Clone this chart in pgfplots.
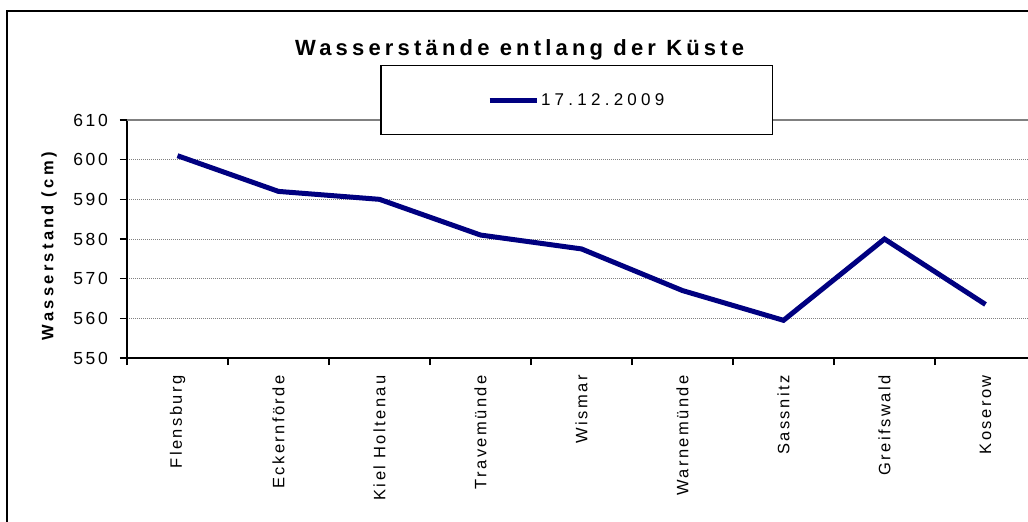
\documentclass[border=0pt]{standalone}
\usepackage{pgfplots}
\pgfplotsset{compat=1.18}
\usepackage{fontspec}
\setmainfont{Liberation Sans}
\newfontfamily\tickfont[LetterSpace=15]{Liberation Sans}
\newfontfamily\catfont[LetterSpace=15]{Liberation Sans}
\newfontfamily\labfont[LetterSpace=20]{Liberation Sans}
\newfontfamily\legfont[LetterSpace=25]{Liberation Sans}
\newfontfamily\titlefont[LetterSpace=19]{Liberation Sans}
\definecolor{navy}{HTML}{000080}

\begin{document}
\begin{tikzpicture}[x=1pt,y=1pt]
\clip (0,0) rectangle (1028,522);
\fill[white] (0,0) rectangle (1028,522);
% outer chart frame (right and bottom edges are cut off)
\draw[line width=2pt] (6.5,-20) -- (6.5,511) -- (1060,511);

\begin{axis}[
    at={(127pt,164pt)}, anchor=south west,
    scale only axis, width=909pt, height=238pt,
    xmin=-0.5, xmax=8.5,
    ymin=550, ymax=610,
    axis x line=bottom, axis y line=left,
    axis line style={line width=1.5pt, -},
    tick align=outside,
    major tick length=7pt,
    tick style={black, line width=1.2pt},
    /pgf/number format/assume math mode=true,
    ytick={550,560,...,610},
    yticklabel style={font=\tickfont\fontsize{17.5}{17.5}\selectfont, inner sep=0pt, xshift=-12pt},
    xtick={-0.5,0.5,...,7.5},
    xticklabels={},
    extra x ticks={0,1,...,8},
    extra x tick labels={Flensburg,Eckernförde,Kiel Holtenau,Travemünde,Wismar,Warnemünde,Sassnitz,Greifswald,Koserow},
    extra x tick style={major tick length=0pt},
    xticklabel style={font=\catfont\fontsize{16.5}{16.5}\selectfont, inner sep=0pt, yshift=-17pt, rotate=90, anchor=east},
    ymajorgrids,
    grid style={draw=gray, line width=0.8pt, dash pattern=on 1pt off 1pt},
    extra y ticks={610},
    extra y tick labels={},
    extra y tick style={major grid style={solid, draw=gray, line width=1.6pt}},
    every axis y label/.style={at={(axis description cs:-0.0858,0.47)}, rotate=90, anchor=center,
        font=\labfont\bfseries\fontsize{16.5}{16.5}\selectfont},
    ylabel={Wasserstand (cm)},
    every axis title/.style={at={(axis description cs:0.432,1.273)}, anchor=base,
        font=\titlefont\bfseries\fontsize{22}{22}\selectfont},
    title={Wasserstände entlang der Küste},
    legend style={at={(axis description cs:0.4947,1.084)}, anchor=center,
        draw=black, line width=1.2pt, fill=white,
        inner xsep=106pt, inner ysep=26pt,
        font=\legfont\fontsize{17}{17}\selectfont},
    legend image code/.code={\draw[#1] (0pt,0pt) -- (47pt,0pt);},
]
\addplot[navy, line width=5pt] coordinates {
    (0, 601)
    (1, 592)
    (2, 590)
    (3, 581)
    (4, 577.5)
    (5, 567)
    (6, 559.5)
    (7, 580)
    (8, 563.5)
};
\addlegendentry{17.12.2009}
\end{axis}
\end{tikzpicture}
\end{document}
